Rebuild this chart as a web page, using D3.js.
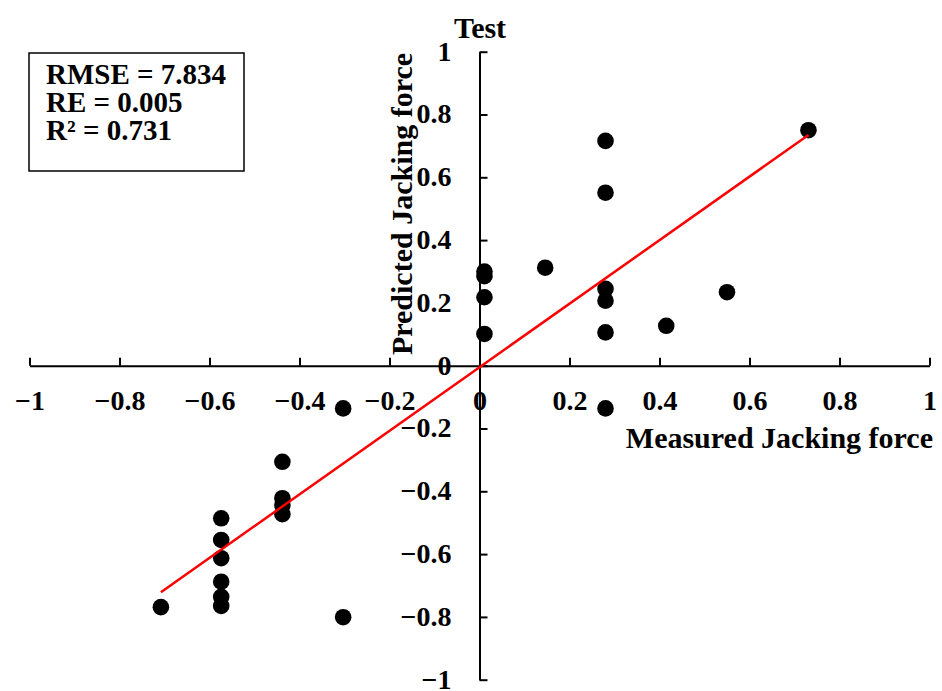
<!DOCTYPE html>
<html>
<head>
<meta charset="utf-8">
<script src="https://cdn.jsdelivr.net/npm/d3@7"></script>
<style>
  body { margin: 0; background: #fff; }
  svg text { font-family: "Liberation Serif", "Times New Roman", serif; font-weight: bold; fill: #000; }
</style>
</head>
<body>
<svg id="chart"></svg>
<script>
// Test set: measured vs predicted (normalised)
const measured = [
  0.731, 0.280, 0.280, 0.011, 0.011, 0.146, 0.011, 0.280, 0.280, 0.550, 0.415, 0.280, 0.011,
  0.280, -0.303, -0.438, -0.438, -0.438, -0.438,
  -0.574, -0.574, -0.574, -0.574, -0.574, -0.574, -0.708, -0.303
];
const predicted = [
  0.750, 0.716, 0.551, 0.300, 0.285, 0.312, 0.218, 0.245, 0.207, 0.234, 0.127, 0.106, 0.101,
  -0.136, -0.136, -0.306, -0.422, -0.444, -0.473,
  -0.486, -0.555, -0.613, -0.688, -0.736, -0.765, -0.769, -0.801
];
const tickValues = [-1, -0.8, -0.6, -0.4, -0.2, 0, 0.2, 0.4, 0.6, 0.8, 1];
// fitted line y = slope * x + intercept, drawn over the measured range
const fitSlope = 1.012;
const fitIntercept = -0.005;
const statsLines = ["RMSE = 7.834", "RE = 0.005", "R\u00B2 = 0.731"];

const width = 942, height = 691;
const svg = d3.select("#chart").attr("width", width).attr("height", height);

const x = d3.scaleLinear().domain([-1, 1]).range([29.5, 929.5]);
const y = d3.scaleLinear().domain([-1, 1]).range([679.7, 51.7]);

const fmt = d => d === 0 ? "0" : (d < 0 ? "\u2212" : "") + Math.abs(d);

// x axis through y = 0, ticks pointing up
const xAxis = d3.axisBottom(x).tickValues(tickValues).tickFormat(fmt)
  .tickSizeInner(-8).tickSizeOuter(0).tickPadding(24);
const xAxisG = svg.append("g").attr("transform", `translate(0,${y(0)})`).call(xAxis);

// y axis through x = 0, ticks pointing right
const yAxis = d3.axisLeft(y).tickValues(tickValues).tickFormat(fmt)
  .tickSizeInner(-8).tickSizeOuter(0).tickPadding(28);
const yAxisG = svg.append("g").attr("transform", `translate(${x(0)},0)`).call(yAxis);

[xAxisG, yAxisG].forEach(g => {
  g.selectAll("path, line").attr("stroke", "#000").attr("stroke-width", 2);
  g.selectAll("text").style("font-size", "28px").style("font-family", "'Liberation Serif', serif").style("font-weight", "bold");
});
yAxisG.selectAll("text").attr("dy", "0.3em");

// points
const pts = measured.map((m, i) => ({ m, p: predicted[i] }));
svg.append("g").selectAll("circle").data(pts).join("circle")
  .attr("cx", d => x(d.m))
  .attr("cy", d => y(d.p))
  .attr("r", 8.3)
  .attr("fill", "#000");

// fitted line
const xr = d3.extent(measured);
svg.append("line")
  .attr("x1", x(xr[0])).attr("y1", y(fitSlope * xr[0] + fitIntercept))
  .attr("x2", x(xr[1])).attr("y2", y(fitSlope * xr[1] + fitIntercept))
  .attr("stroke", "#ff0000").attr("stroke-width", 2.5);

// titles
svg.append("text").attr("x", 480).attr("y", 38).attr("text-anchor", "middle")
  .style("font-size", "30px").text("Test");

svg.append("text").attr("x", 933).attr("y", 448).attr("text-anchor", "end")
  .style("font-size", "30px").text("Measured Jacking force");

svg.append("text").attr("transform", "translate(412,204) rotate(-90)").attr("text-anchor", "middle")
  .style("font-size", "30px").text("Predicted Jacking force");

// stats box
svg.append("rect").attr("x", 29).attr("y", 53).attr("width", 215).attr("height", 118)
  .attr("fill", "#fff").attr("stroke", "#000").attr("stroke-width", 1.5);
svg.append("g").selectAll("text").data(statsLines).join("text")
  .attr("x", 46).attr("y", (d, i) => 84 + i * 28)
  .style("font-size", "29px").text(d => d);
</script>
</body>
</html>
